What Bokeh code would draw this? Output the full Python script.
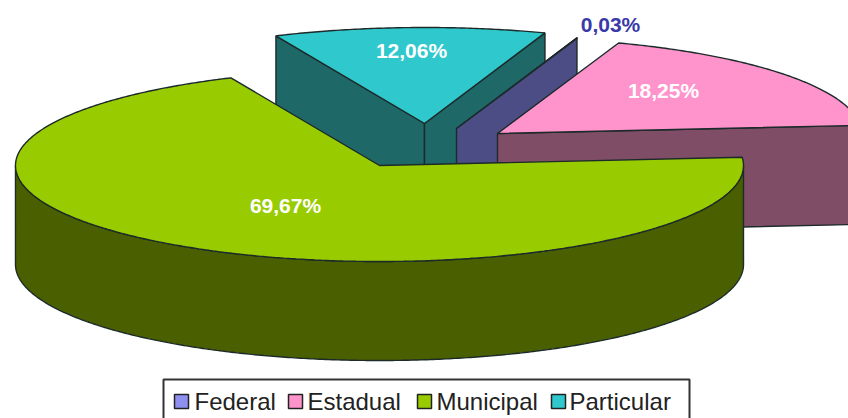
import math
from bokeh.plotting import figure
from bokeh.embed import file_html
from bokeh.resources import INLINE
from bokeh.core.properties import value

categories = ["Federal", "Estadual", "Municipal", "Particular"]
shares = [0.03, 18.25, 69.67, 12.06]
share_labels = ["0,03%", "18,25%", "69,67%", "12,06%"]

top_colors = ["#8F8FEF", "#FF94CC", "#99CC00", "#2FC8CC"]
side_colors = ["#4D4D85", "#804D66", "#4A6000", "#1F6868"]
apex = {"Federal": (456, 128), "Estadual": (497, 133), "Municipal": (379, 165), "Particular": (424, 123)}
label_pos = {"Federal": (610, 24), "Estadual": (663, 90), "Municipal": (285, 205), "Particular": (411, 50)}
label_color = {"Federal": "#3A3AA8", "Estadual": "#FFFFFF", "Municipal": "#FFFFFF", "Particular": "#FFFFFF"}
legend_swatch_x = [181, 295, 424, 558]
legend_text_x = [194, 307, 436, 569]

RX, RY, DEPTH = 364, 96, 99
START = -4.9
EDGE = "#1C2A2A"

p = figure(width=848, height=418, x_range=(0, 848), y_range=(418, 0),
           output_backend="svg", toolbar_location=None, min_border=0)
p.xaxis.visible = False
p.yaxis.visible = False
p.grid.visible = False
p.outline_line_color = None
p.background_fill_color = "white"
p.border_fill_color = "white"


def rim(c, a0, a1, dy=0):
    n = max(2, int(abs(a1 - a0) * 2))
    xs, ys = [], []
    for i in range(n + 1):
        t = math.radians(a0 + (a1 - a0) * i / n)
        xs.append(c[0] + RX * math.cos(t))
        ys.append(c[1] + RY * math.sin(t) + dy)
    return xs, ys


def wall(c, a, col):
    x, y = rim(c, a, a)
    xs = [c[0], x[0], x[0], c[0]]
    ys = [c[1], y[0], y[0] + DEPTH, c[1] + DEPTH]
    p.patch(xs, ys, fill_color=col, line_color=EDGE, line_width=1.4)


def top(c, a0, a1, col):
    x, y = rim(c, a0, a1)
    p.patch([c[0]] + x, [c[1]] + y, fill_color=col, line_color=EDGE, line_width=1.4)


# angles of each slice, clockwise from the east
angles = {}
a = START
for name in ["Municipal", "Particular", "Federal", "Estadual"]:
    sp = shares[categories.index(name)] * 3.6
    angles[name] = (a, a + sp)
    a += sp

idx = {n: i for i, n in enumerate(categories)}

# Particular
a0, a1 = angles["Particular"]
wall(apex["Particular"], a0, side_colors[idx["Particular"]])
wall(apex["Particular"], a1, side_colors[idx["Particular"]])
top(apex["Particular"], a0, a1, top_colors[idx["Particular"]])

# Federal
a0, a1 = angles["Federal"]
wall(apex["Federal"], a0, side_colors[idx["Federal"]])
top(apex["Federal"], a0, a1, top_colors[idx["Federal"]])

# Estadual
a0, a1 = angles["Estadual"]
wall(apex["Estadual"], a1, side_colors[idx["Estadual"]])
top(apex["Estadual"], a0, a1, top_colors[idx["Estadual"]])

# Municipal
a0, a1 = angles["Municipal"]
c = apex["Municipal"]
x, y = rim(c, 0, 180)
xb, yb = rim(c, 180, 0, DEPTH)
p.patch(x + xb, y + yb, fill_color=side_colors[idx["Municipal"]], line_color=EDGE, line_width=1.4)
top(c, a0, a1, top_colors[idx["Municipal"]])

# percentage labels
for i, n in enumerate(categories):
    lx, ly = label_pos[n]
    p.text([lx], [ly], text=[share_labels[i]], text_color=label_color[n],
           text_font=value("Liberation Sans"), text_font_style="bold",
           text_font_size="21px", text_align="center", text_baseline="middle")

# legend
p.rect([426], [400], width=526, height=42, fill_color="white", line_color="#333333", line_width=2)
p.rect(legend_swatch_x, [401] * 4, width=14, height=14, fill_color=top_colors,
       line_color="#222222", line_width=1.5)
p.text(legend_text_x, [401] * 4, text=categories, text_color="#222222",
       text_font=value("Liberation Sans"), text_font_size="24px",
       text_align="left", text_baseline="middle")

open("out.html", "w").write(file_html(p, INLINE))
